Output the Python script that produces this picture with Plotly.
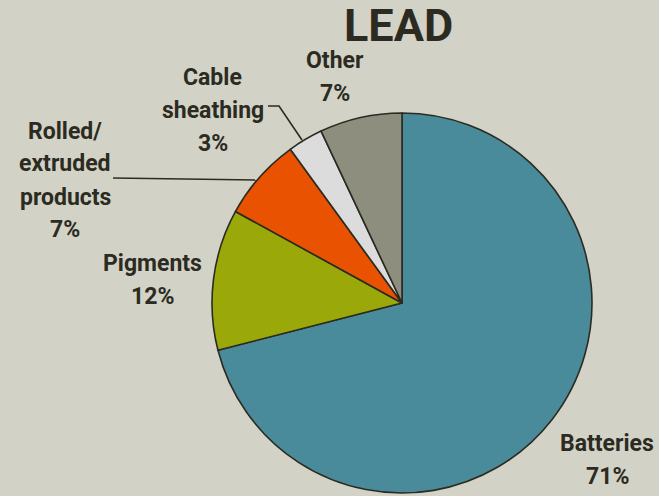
import plotly.graph_objects as go

categories = ["Batteries", "Pigments", "Rolled/\nextruded\nproducts", "Cable\nsheathing", "Other"]
values = [71, 12, 7, 3, 7]
colors = ["#4a8b9b", "#9aa80a", "#e85200", "#dcdcdc", "#8e8e7e"]
title_text = "LEAD"

W, H = 659, 496
BG = "#d3d2c6"
INK = "#2b2b22"
FONT = "Roboto, Liberation Sans, sans-serif"

cx, cy, r = 402, 303, 190

def px(x):
    return x / W

def py(y):
    return 1 - y / H

fig = go.Figure(go.Pie(
    labels=[c.replace("\n", " ") for c in categories],
    values=values,
    sort=False,
    direction="clockwise",
    rotation=0,
    textinfo="none",
    hoverinfo="label+percent",
    marker=dict(colors=colors, line=dict(color=INK, width=1.6)),
    domain=dict(x=[px(cx - r), px(cx + r)], y=[py(cy + r), py(cy - r)]),
    showlegend=False,
))

# top line y, x centre of each label block
label_pos = [(607, 443), (152, 263), (65, 131), (213, 77), (335, 60)]
line_gap = 33
total = sum(values)
ann = []
for cat, v, (x, y0) in zip(categories, values, label_pos):
    lines = cat.split("\n") + [f"{round(100 * v / total)}%"]
    for i, ln in enumerate(lines):
        ann.append(dict(
            text=f"<b>{ln}</b>",
            x=px(x), y=py(y0 + i * line_gap), xref="paper", yref="paper",
            xanchor="center", yanchor="middle", showarrow=False,
            font=dict(family=FONT, size=23, color=INK),
        ))
ann.append(dict(
    text=f"<b>{title_text}</b>", x=px(398), y=py(26), xref="paper", yref="paper",
    xanchor="center", yanchor="middle", showarrow=False,
    font=dict(family=FONT, size=45, color=INK),
))

shapes = [
    dict(type="path", xref="paper", yref="paper",
         path=f"M {px(268)} {py(106)} L {px(279)} {py(106)} L {px(302)} {py(140)}",
         line=dict(color=INK, width=1.6)),
    dict(type="line", xref="paper", yref="paper",
         x0=px(113), y0=py(178), x1=px(257), y1=py(180),
         line=dict(color=INK, width=1.6)),
]

fig.update_layout(
    width=W, height=H,
    margin=dict(l=0, r=0, t=0, b=0),
    paper_bgcolor=BG, plot_bgcolor=BG,
    annotations=ann, shapes=shapes,
)

fig.write_html("out.html", config=dict(displayModeBar=False),
               post_script="document.body.style.margin='0';document.body.style.overflow='hidden';")
